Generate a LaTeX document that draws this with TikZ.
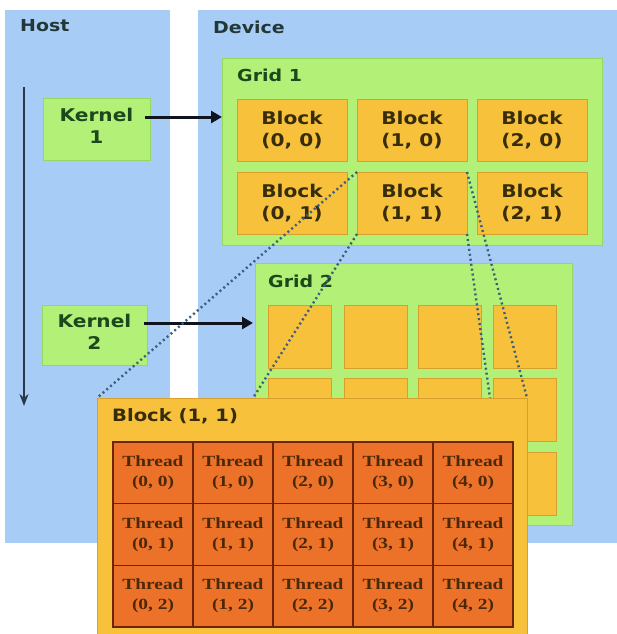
\documentclass[tikz,border=0pt]{standalone}
\usepackage{fontspec}
\setmainfont{DejaVu Sans}
\newfontfamily\lblfont[FakeStretch=1.15]{DejaVu Sans}
\newfontfamily\thrfont[FakeStretch=1.25]{Liberation Serif}
\usetikzlibrary{arrows.meta}
\definecolor{bgblue}{RGB}{167,205,247}
\definecolor{grgreen}{RGB}{178,240,120}
\definecolor{grgreenD}{RGB}{150,215,95}
\definecolor{blkor}{RGB}{247,193,60}
\definecolor{blkorD}{RGB}{215,160,45}
\definecolor{thror}{RGB}{236,114,42}
\definecolor{thrD}{RGB}{110,35,10}
\definecolor{txthost}{RGB}{35,55,55}
\definecolor{txtgreen}{RGB}{28,72,28}
\definecolor{txtblk}{RGB}{55,45,10}
\definecolor{txtthr}{RGB}{75,40,8}
\definecolor{dotc}{RGB}{60,95,125}
\definecolor{arrc}{RGB}{15,20,30}
\definecolor{tlc}{RGB}{40,55,75}
\begin{document}
\begin{tikzpicture}[x=1pt,y=-1pt,
  box/.style={anchor=north west, inner sep=0pt, outer sep=0pt},
  panelbox/.style={box, fill=bgblue},
  greenbox/.style={box, fill=grgreen, draw=grgreenD, line width=0.8pt},
  orbox/.style={box, fill=blkor, draw=blkorD, line width=0.8pt},
  lbl/.style={anchor=west, inner sep=0pt, font=\lblfont\bfseries\fontsize{16.5}{19}\selectfont},
  blktxt/.style={align=center, font=\lblfont\bfseries\fontsize{17.5}{22}\selectfont, text=txtblk},
  kertxt/.style={align=center, font=\lblfont\bfseries\fontsize{17.5}{22}\selectfont, text=txtgreen},
  thrcell/.style={box, fill=thror, draw=thrD, line width=1.2pt, align=center,
     font=\thrfont\bfseries\fontsize{15.5}{20}\selectfont, text=txtthr,
     minimum width=80pt, minimum height=61.67pt},
  karrow/.style={draw=arrc, line width=3pt, -{Triangle[length=11pt,width=12pt]}},
  timeline/.style={draw=tlc, line width=2pt, -{Stealth[length=12pt,width=9pt]}},
  dotline/.style={draw=dotc, line width=2.4pt, dash pattern=on 2pt off 3pt}
]
\useasboundingbox (0,0) rectangle (617,634);
\fill[white] (0,0) rectangle (617,634);

% Host and Device panels
\node[panelbox, minimum width=165pt, minimum height=533pt] (host) at (5,10) {};
\node[panelbox, minimum width=419pt, minimum height=533pt] (dev) at (198,10) {};
\node[lbl, text=txthost] (hostlbl) at (20,26) {Host};
\node[lbl, text=txthost] (devlbl) at (213,27) {Device};

% host timeline
\coordinate (ta) at (24,87);
\coordinate (tb) at (24,406);
\draw[timeline] (ta) -- (tb);

% kernels
\node[greenbox, minimum width=107pt, minimum height=62pt] (k1) at (43,98) {};
\node[kertxt] (k1t) at ([yshift=3pt]k1.center) {Kernel\\1};
\node[greenbox, minimum width=105pt, minimum height=60pt] (k2) at (42,305) {};
\node[kertxt] (k2t) at ([yshift=3pt]k2.center) {Kernel\\2};

% Grid 1
\node[greenbox, minimum width=380pt, minimum height=187pt] (g1) at (222,58) {};
\node[lbl, text=txtgreen] (g1l) at (237,75) {Grid 1};
\foreach \i/\x in {0/237,1/357,2/477}{
  \foreach \j/\y in {0/99,1/172}{
    \node[orbox, minimum width=110pt, minimum height=62pt] (b\i\j) at (\x,\y) {};
    \node[blktxt] (bt\i\j) at (b\i\j.center) {Block\\(\i, \j)};
  }
}

% Grid 2
\node[greenbox, minimum width=317pt, minimum height=262pt] (g2) at (255,263) {};
\node[lbl, text=txtgreen] (g2l) at (268,281) {Grid 2};
\foreach \i/\x in {0/268,1/344,2/418,3/493}{
  \foreach \j/\y in {0/305,1/378,2/452}{
    \node[orbox, minimum width=63pt, minimum height=63pt] (s\i\j) at (\x,\y) {};
  }
}

% kernel arrows
\coordinate (k1a) at ([xshift=-5pt,yshift=12pt]k1.east);
\coordinate (k2a) at ([xshift=-3pt,yshift=12pt]k2.east);
\draw[karrow] (k1a) -- (k1a -| g1.west);
\draw[karrow] (k2a) -- ([xshift=-2pt]k2a -| g2.west);

% dotted projection lines
\coordinate (e1) at (97,398);
\coordinate (e2) at (253,398);
\coordinate (e3) at (490,398);
\coordinate (e4) at (527,398);
\draw[dotline] (b11.north west) -- (e1);
\draw[dotline] (b11.south west) -- (e2);
\draw[dotline] (b11.south east) -- (e3);
\draw[dotline] (b11.north east) -- (e4);

% Block (1,1) expanded
\node[box, fill=blkor, draw=blkorD, line width=0.8pt, minimum width=430pt, minimum height=240pt] (bp) at (97,398) {};
\node[lbl, text=txtblk, font=\lblfont\bfseries\fontsize{17}{19}\selectfont] (bpl) at (112,416) {Block (1, 1)};
\foreach \i in {0,...,4}{
  \foreach \j in {0,1,2}{
    \node[thrcell] (t\i\j) at ({113+80*\i},{442+61.67*\j}) {Thread\\(\i, \j)};
  }
}
\draw[thrD, line width=2pt] (t00.north west) rectangle (t42.south east);
\end{tikzpicture}
\end{document}
